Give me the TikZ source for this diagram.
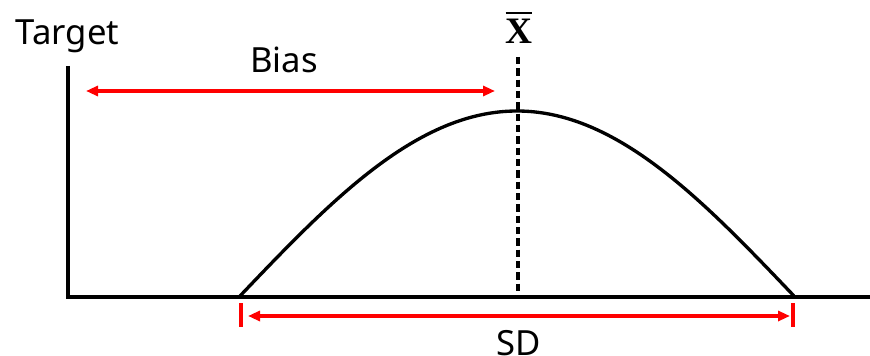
\documentclass[tikz,border=0pt]{standalone}
\usepackage{fontspec}
\newfontfamily\labfont{Noto Sans}
\newfontfamily\xfont{Liberation Serif}
\usetikzlibrary{arrows.meta}
\definecolor{arrred}{RGB}{255,0,0}
\begin{document}
\begin{tikzpicture}[x=0.75pt,y=-0.75pt,
  axisline/.style={line width=2.6pt,line join=miter},
  bellcurve/.style={line width=2.5pt},
  meanline/.style={line width=2.4pt,dash pattern=on 5.5pt off 3pt},
  redarrow/.style={draw=arrred,line width=2.3pt,{Triangle[length=9pt,width=7.5pt]}-{Triangle[length=9pt,width=7.5pt]}},
  redbar/.style={draw=arrred,line width=2.5pt},
  lab/.style={inner sep=0pt,font=\labfont\fontsize{26}{30}\selectfont}]
\useasboundingbox (0,0) rectangle (870,356);
% axes
\coordinate (ytop) at (68,66);
\coordinate (O) at (68,297);
\coordinate (xend) at (871,297);
\draw[axisline] (ytop) -- (O) -- (xend);
% curve
\draw[bellcurve] plot[domain=-1:1,samples=120,smooth] ({517+277*\x},{296-185*cos(90*\x)});
% mean line
\coordinate (mtop) at (518,57);
\coordinate (mbot) at (518,297);
\draw[meanline] (mtop) -- (mbot);
% bias arrow
\coordinate (b1) at (86,91);
\coordinate (b2) at (495,91);
\draw[redarrow] (b1) -- (b2);
% SD arrow
\coordinate (l1) at (241,303);
\coordinate (l2) at (241,327);
\coordinate (r1) at (793,303);
\coordinate (r2) at (793,327);
\draw[redbar] (l1) -- (l2);
\draw[redbar] (r1) -- (r2);
\coordinate (s1) at (248,316);
\coordinate (s2) at (790,316);
\draw[redarrow] (s1) -- (s2);
% labels
\node[lab,anchor=base] (target) at (67.5,45) {Target};
\node[lab,anchor=base] (bias) at (284,73) {Bias};
\node[lab,anchor=base] (sd) at (518.5,355) {SD};
\node[inner sep=0pt,anchor=base,font=\xfont\bfseries\fontsize{28}{32}\selectfont] (xbar) at (519,44)
  {\vbox{\hrule height 1.7pt\kern 4pt\hbox{X}}};
\end{tikzpicture}
\end{document}
